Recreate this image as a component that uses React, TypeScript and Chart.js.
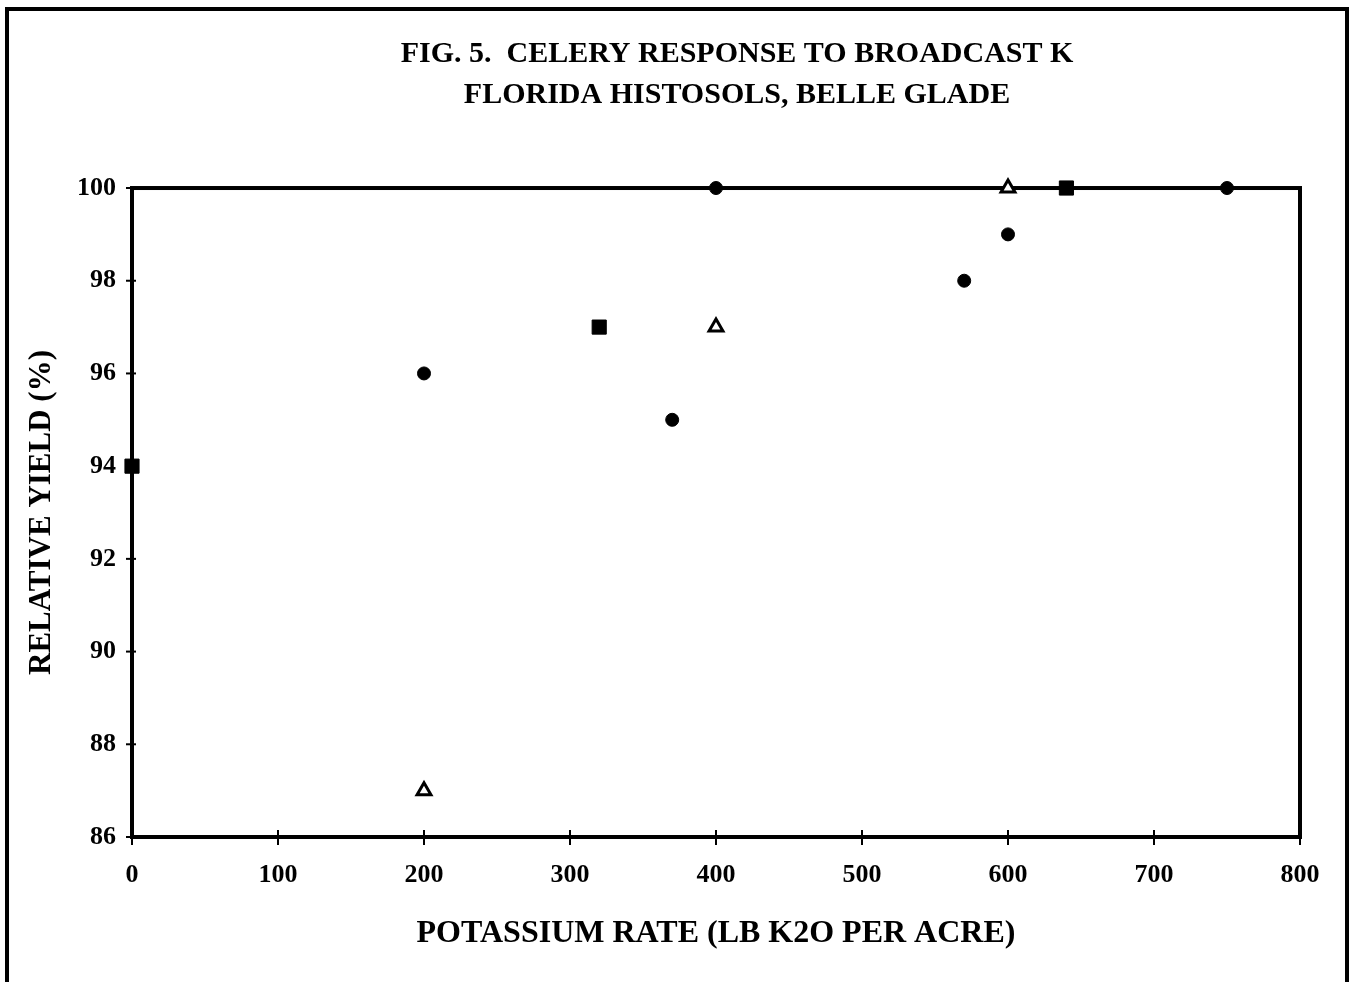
import React, { useEffect, useRef } from "react";
import { Chart, registerables } from "chart.js";

Chart.register(...registerables);

const titleLines = ["FIG. 5.  CELERY RESPONSE TO BROADCAST K", "FLORIDA HISTOSOLS, BELLE GLADE"];
const xAxisTitle = "POTASSIUM RATE (LB K2O PER ACRE)";
const yAxisTitle = "RELATIVE YIELD (%)";

const circleX = [200, 370, 400, 570, 600, 750];
const circleY = [96, 95, 100, 98, 99, 100];
const squareX = [0, 320, 640];
const squareY = [94, 97, 100];
const triangleX = [200, 400, 600];
const triangleY = [87, 97, 100];

const xMin = 0;
const xMax = 800;
const xStep = 100;
const yMin = 86;
const yMax = 100;
const yStep = 2;

const FONT = "'Liberation Serif', 'Times New Roman', serif";

const toPoints = (xs: number[], ys: number[]) => xs.map((x, i) => ({ x, y: ys[i] }));

const framePlugin = {
  id: "frame",
  beforeDatasetsDraw(chart: any) {
    const { ctx, chartArea } = chart;
    const { left, right, top, bottom } = chartArea;
    ctx.save();
    // outer figure frame
    ctx.strokeStyle = "#000";
    ctx.lineWidth = 4;
    ctx.beginPath();
    ctx.moveTo(7, 990);
    ctx.lineTo(7, 9);
    ctx.lineTo(1347, 9);
    ctx.lineTo(1347, 990);
    ctx.stroke();
    // plot rectangle
    ctx.lineWidth = 4;
    ctx.strokeRect(left, top, right - left, bottom - top);
    // crossing tick marks
    ctx.lineWidth = 2;
    const xs = chart.scales.x;
    const ys = chart.scales.y;
    xs.ticks.forEach((t: any) => {
      const px = xs.getPixelForValue(t.value);
      ctx.beginPath();
      ctx.moveTo(px, bottom - 7);
      ctx.lineTo(px, bottom + 8);
      ctx.stroke();
    });
    ys.ticks.forEach((t: any) => {
      const py = ys.getPixelForValue(t.value);
      ctx.beginPath();
      ctx.moveTo(left - 6, py);
      ctx.lineTo(left + 4, py);
      ctx.stroke();
    });
    ctx.restore();
  },
};

export default function App() {
  const ref = useRef<HTMLCanvasElement>(null);

  useEffect(() => {
    if (!ref.current) return;
    const chart = new Chart(ref.current, {
      type: "scatter",
      data: {
        datasets: [
          {
            label: "Circles",
            data: toPoints(circleX, circleY),
            pointStyle: "circle",
            pointRadius: 6.5,
            backgroundColor: "#000",
            borderColor: "#000",
            borderWidth: 1,
            clip: false,
          },
          {
            label: "Squares",
            data: toPoints(squareX, squareY),
            pointStyle: "rect",
            pointRadius: 10,
            backgroundColor: "#000",
            borderColor: "#000",
            borderWidth: 1,
            clip: false,
          },
          {
            label: "Triangles",
            data: toPoints(triangleX, triangleY),
            pointStyle: "triangle",
            pointRadius: 8,
            backgroundColor: "#fff",
            borderColor: "#000",
            borderWidth: 3,
            clip: false,
          },
        ],
      },
      options: {
        animation: false,
        responsive: false,
        layout: { padding: { left: 0, right: 0, top: 0, bottom: 0 } },
        plugins: {
          legend: { display: false },
          tooltip: { enabled: false },
          title: {
            display: true,
            text: titleLines,
            color: "#000",
            font: { family: FONT, size: 30, weight: "bold", lineHeight: 1.367 },
            padding: { top: 34, bottom: 72 },
          },
        },
        scales: {
          x: {
            type: "linear",
            min: xMin,
            max: xMax,
            afterFit: (s: any) => {
              s.height = 145;
            },
            ticks: {
              stepSize: xStep,
              color: "#000",
              padding: 23,
              font: { family: FONT, size: 26, weight: "bold" },
            },
            grid: { display: false, drawTicks: false },
            border: { display: false },
            title: {
              display: true,
              text: xAxisTitle,
              color: "#000",
              font: { family: FONT, size: 32, weight: "bold", lineHeight: 1.2 },
              padding: { top: 0, bottom: 29 },
            },
          },
          y: {
            type: "linear",
            min: yMin,
            max: yMax,
            afterFit: (s: any) => {
              s.width = 132;
            },
            ticks: {
              stepSize: yStep,
              color: "#000",
              padding: 16,
              font: { family: FONT, size: 26, weight: "bold" },
            },
            grid: { display: false, drawTicks: false },
            border: { display: false },
            title: {
              display: true,
              text: yAxisTitle,
              color: "#000",
              font: { family: FONT, size: 31, weight: "bold", lineHeight: 1.2 },
              padding: { top: 23, bottom: 0 },
            },
          },
          // blank spacer on the right so the figure title sits where the original's does
          spacer: {
            type: "linear",
            position: "right",
            min: 0,
            max: 1,
            afterFit: (s: any) => {
              s.width = 174;
            },
            ticks: { display: false },
            grid: { display: false, drawTicks: false },
            border: { display: false },
          },
        },
      },
      plugins: [framePlugin],
    });
    return () => chart.destroy();
  }, []);

  return (
    <div
      style={{
        position: "fixed",
        left: 0,
        top: 0,
        width: 1351,
        height: 982,
        overflow: "hidden",
        background: "#fff",
      }}
    >
      <canvas ref={ref} width={1474} height={982} style={{ display: "block" }} />
    </div>
  );
}
